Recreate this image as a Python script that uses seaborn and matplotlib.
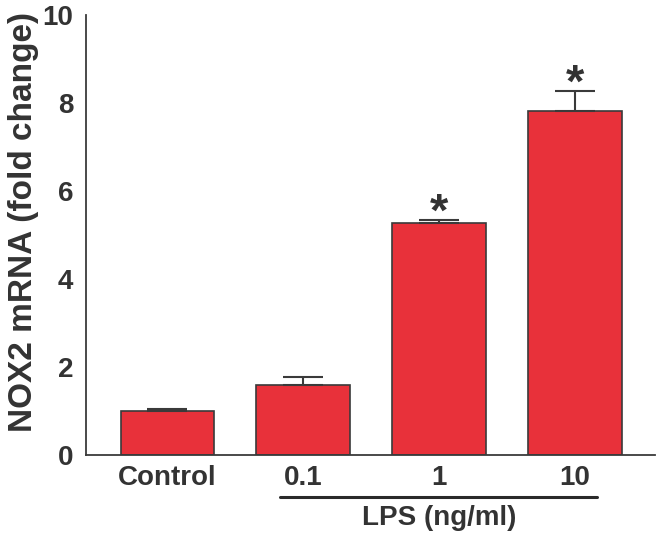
import matplotlib
matplotlib.use("Agg")
import matplotlib.pyplot as plt
import seaborn as sns
import pandas as pd
import numpy as np
from matplotlib.transforms import blended_transform_factory

categories = ["Control", "0.1", "1", "10"]
values = [1.00, 1.59, 5.27, 7.82]
errors = [0.05, 0.18, 0.07, 0.45]
significant = [False, False, True, True]
yticks = [0, 2, 4, 6, 8, 10]

sns.set_theme(style="white")
plt.rcParams['font.family'] = ['Liberation Sans', 'DejaVu Sans']
plt.rcParams['font.weight'] = 'bold'

txt = "#333333"
red = "#E8313A"

fig = plt.figure(figsize=(6.59, 5.38), dpi=100)
ax = fig.add_axes([86/659, 1-455/538, (655-86)/659, (455-15)/538])

df = pd.DataFrame({"cat": categories, "val": values})
sns.barplot(data=df, x="cat", y="val", ax=ax, color=red, width=0.69,
            edgecolor="#3a3a3a", linewidth=1.2, saturation=1, errorbar=None)

xs = np.arange(len(categories))
ax.errorbar(xs, values, yerr=[np.zeros(len(errors)), errors], fmt="none",
            ecolor="#3a3a3a", elinewidth=1.5, capsize=14.4, capthick=1.5, zorder=1)

for x, v, e, s in zip(xs, values, errors, significant):
    if s:
        ax.text(x, v + e - 0.12, "*", ha="center", va="baseline", fontsize=34,
                fontweight="bold", color=txt)

ax.set_xlim(-0.6, 3.59)
ax.set_ylim(0, 10)
ax.set_yticks(yticks)
ax.set_yticklabels([str(t) for t in yticks])
ax.tick_params(axis="y", direction="in", length=10, width=1.3, colors="#3a3a3a",
               labelsize=20, labelcolor=txt, pad=9)
ax.tick_params(axis="x", length=0, labelsize=20, labelcolor=txt, pad=7)
for lab in ax.get_xticklabels() + ax.get_yticklabels():
    lab.set_fontweight("bold")

for sp in ["top", "right"]:
    ax.spines[sp].set_visible(False)
for sp in ["left", "bottom"]:
    ax.spines[sp].set_color("#3a3a3a")
    ax.spines[sp].set_linewidth(1.3)

ax.set_xlabel("")
ax.set_ylabel("NOX2 mRNA (fold change)", fontsize=24, fontweight="bold",
              color=txt, va="center")
ax.yaxis.set_label_coords(-0.11, 0.53)

trans = blended_transform_factory(ax.transData, ax.transAxes)
ax.plot([0.83, 3.16], [-0.095, -0.095], transform=trans, color="#2a2a2a",
        lw=2.2, clip_on=False)
ax.text(2.0, -0.143, "LPS (ng/ml)", transform=trans, ha="center", va="center",
        fontsize=20, fontweight="bold", color=txt)

fig.savefig("out.png", dpi=100)
